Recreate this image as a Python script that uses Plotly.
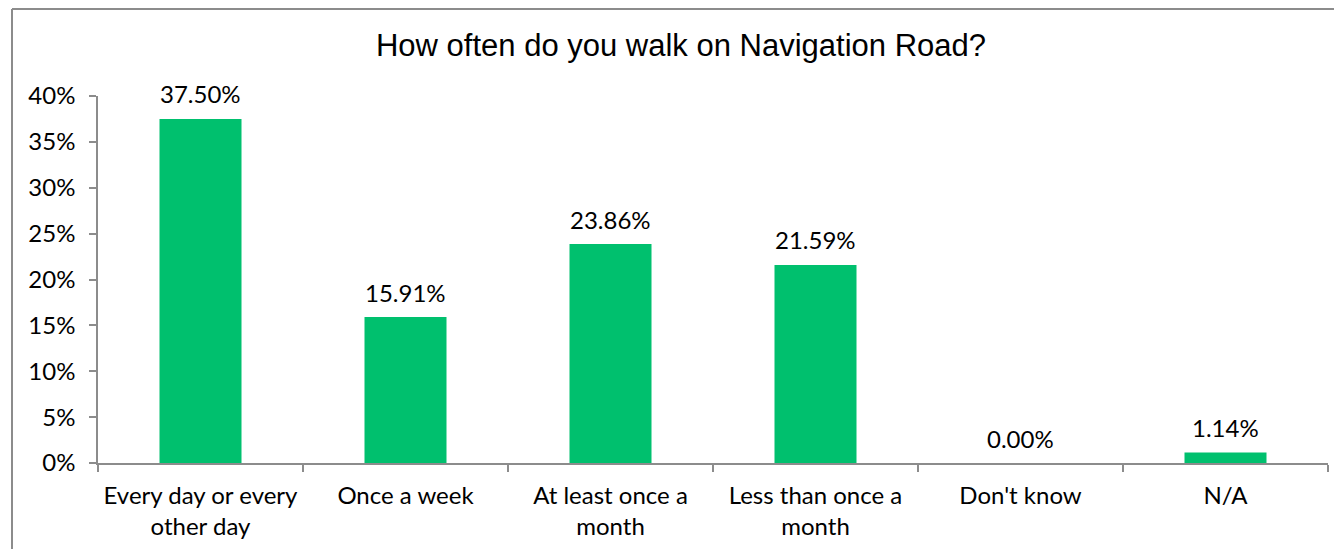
import plotly.graph_objects as go

categories = ["Every day or every<br>other day", "Once a week", "At least once a<br>month",
              "Less than once a<br>month", "Don't know", "N/A"]
values = [37.50, 15.91, 23.86, 21.59, 0.00, 1.14]
labels = ["37.50%", "15.91%", "23.86%", "21.59%", "0.00%", "1.14%"]
y_ticks = [0, 5, 10, 15, 20, 25, 30, 35, 40]
y_tick_text = [f"{t}%" for t in y_ticks]

# page body has an 8px margin, so the figure is offset by 8px in the window
W, H = 1326, 541
L, R, T, B = 90, 6, 88, 86
pw, ph = W - L - R, H - T - B

font_body = "Lato, 'Open Sans', sans-serif"
axis_col = "#8c8c8c"

fig = go.Figure(go.Bar(x=categories, y=values, marker_color="#00C06E",
                       marker_line_width=0, hoverinfo="skip"))

for c, v, t in zip(categories, values, labels):
    fig.add_annotation(x=c, y=v, text=t, showarrow=False, yanchor="middle",
                       yshift=25, font=dict(family=font_body, size=24, color="#000"))

def px_x(p):
    return (p - L) / pw

def px_y(p):
    return (H - B - p) / ph

# chart-area frame: only the left and top edges are visible in the window
fig.add_shape(type="line", xref="paper", yref="paper",
              x0=px_x(4), x1=px_x(4), y0=px_y(1), y1=px_y(H),
              line=dict(color=axis_col, width=2), layer="below")
fig.add_shape(type="line", xref="paper", yref="paper",
              x0=px_x(4), x1=px_x(W), y0=px_y(1), y1=px_y(1),
              line=dict(color=axis_col, width=2), layer="below")

fig.update_layout(
    width=W, height=H,
    margin=dict(l=L, r=R, t=T, b=B),
    paper_bgcolor="white", plot_bgcolor="white",
    bargap=0.6,
    showlegend=False,
    title=dict(text="How often do you walk on Navigation Road?", x=673 / W, xanchor="center",
               y=1 - 37 / H, yanchor="middle",
               font=dict(family="'Liberation Sans', Arial, sans-serif", size=31, color="#000")),
    xaxis=dict(type="category", showline=True, linecolor=axis_col, linewidth=1.5,
               ticks="outside", tickson="boundaries", ticklen=7, tickcolor=axis_col, tickwidth=1.5,
               ticklabelstandoff=10,
               showgrid=False, tickfont=dict(family=font_body, size=24, color="#000")),
    yaxis=dict(range=[0, 40], tickvals=y_ticks, ticktext=y_tick_text, showline=True,
               linecolor=axis_col, linewidth=1.5, ticks="outside", ticklen=7,
               tickcolor=axis_col, tickwidth=1.5, showgrid=False, zeroline=False,
               ticklabelstandoff=9,
               tickfont=dict(family=font_body, size=24, color="#000")),
)

fig.write_html("out.html")
